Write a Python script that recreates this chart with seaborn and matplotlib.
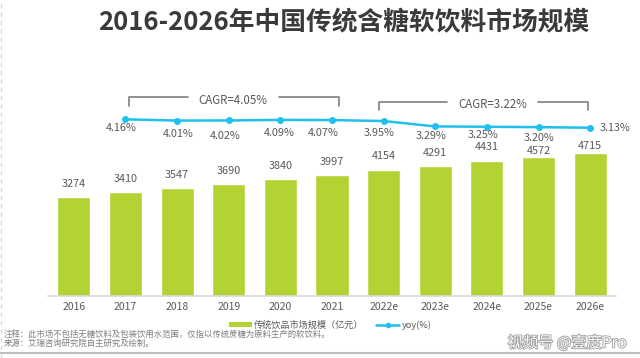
import matplotlib
matplotlib.use('Agg')
import matplotlib.pyplot as plt
import matplotlib.patheffects as pe
import seaborn as sb
from matplotlib.lines import Line2D
from matplotlib.patches import Patch
from matplotlib.transforms import blended_transform_factory
from pandas import DataFrame

# data
years = ['2016', '2017', '2018', '2019', '2020', '2021',
         '2022e', '2023e', '2024e', '2025e', '2026e']
market = [3274, 3410, 3547, 3690, 3840, 3997, 4154, 4291, 4431, 4572, 4715]
yoy_years = years[1:]
yoy = [4.16, 4.01, 4.02, 4.09, 4.07, 3.95, 3.29, 3.25, 3.20, 3.13]
cagr_labels = ['CAGR=4.05%', 'CAGR=3.22%']

title = '2016-2026年中国传统含糖软饮料市场规模'
bar_name = '传统饮品市场规模（亿元）'
line_name = 'yoy(%)'
notes = ['注释：此市场不包括无糖饮料及包装饮用水范围，仅指以传统蔗糖为原料生产的软饮料。',
         '来源：艾瑞咨询研究院自主研究及绘制。']
watermark = '视频号 @壹度Pro'

# style
GREEN = '#b3d335'
CYAN = '#1fc0ee'
TEXT = '#595959'
GREY = '#7f7f7f'

sb.set_style('white')
plt.rcParams['font.family'] = ['Noto Sans CJK SC', 'DejaVu Sans']

W, H = 640, 358


def fx(px):
    return px / W


def fy(py):
    return 1 - py / H


fig = plt.figure(figsize=(6.4, 3.58), dpi=100)
ax = fig.add_axes([fx(48), fy(296), fx(568), 236 / H])

df_bar = DataFrame({'year': years, 'value': market})
sb.barplot(data=df_bar, x='year', y='value', color=GREEN, saturation=1,
           width=0.64, ax=ax)
ax.set_ylim(0, 7766)
ax.set_xlim(-0.5, len(years) - 0.5)
ax.set_xlabel(None)
ax.set_ylabel(None)
ax.set_yticks([])
for side in ['top', 'right', 'left']:
    ax.spines[side].set_visible(False)
ax.spines['bottom'].set_color('#d9d9d9')
ax.spines['bottom'].set_linewidth(1.2)
ax.tick_params(axis='x', length=0, pad=4.5, labelsize=7.5, labelcolor=TEXT)

# bar value labels (last two sit closer, as in the source)
bar_offsets = [13, 13, 13, 13, 13, 13, 13.5, 13, 14, 6, 7]
for i, v in enumerate(market):
    ax.annotate(str(v), (i, v), xytext=(0, bar_offsets[i] * 0.72),
                textcoords='offset points', ha='center', va='center',
                fontsize=7.8, color=TEXT)

# yoy line on a twin axis
ax2 = ax.twinx()
df_line = DataFrame({'pos': [years.index(y) for y in yoy_years], 'yoy': yoy})
sb.lineplot(data=df_line, x='pos', y='yoy', ax=ax2, color=CYAN, marker='o',
            markersize=5, markeredgewidth=0, linewidth=1.8, legend=False)
ax2.set_ylim(-17.49, 11.43)
ax2.set_yticks([])
ax2.set_ylabel(None)
ax2.set_xlabel(None)
for side in ['top', 'right', 'left', 'bottom']:
    ax2.spines[side].set_visible(False)

# label offsets in px (dx, dy) mimic the staggered excel labels
line_offsets = [(-4, 9), (1, 13), (-3.5, 16), (-1.5, 13.5), (-8.5, 12.5),
                (-4.5, 11.5), (-4, 9.5), (-3.5, 8.5), (1, 11), (10, 0)]
for (x, v), (dx, dy) in zip(df_line[['pos', 'yoy']].values, line_offsets):
    last = dx == 10
    ax2.annotate('%.2f%%' % v, (x, v), xytext=(dx * 0.72, -dy * 0.72),
                 textcoords='offset points', ha='left' if last else 'center',
                 va='center', fontsize=7.8, color=TEXT)

# CAGR brackets
tr = blended_transform_factory(ax.transData, fig.transFigure)
brackets = [(1.06, 5.13, 2.21, 3.97, 97.3, 106, 100),
            (5.91, 9.96, 7.23, 8.99, 102, 110, 104)]
for (x0, x1, g0, g1, ytop, ybot, ytext), lab in zip(brackets, cagr_labels):
    kw = dict(transform=tr, color=GREY, lw=1.2, clip_on=False)
    fig.add_artist(Line2D([x0, x0, g0], [fy(ybot), fy(ytop), fy(ytop)], **kw))
    fig.add_artist(Line2D([g1, x1, x1], [fy(ytop), fy(ytop), fy(ybot)], **kw))
    fig.text((g0 + g1) / 2, fy(ytext), lab, transform=tr, ha='center',
             va='center', fontsize=8.3, color=TEXT)

# title
fig.text(fx(344), fy(22.5), title, ha='center', va='center', fontsize=18.5,
         fontweight='bold', color='#3a3a3a')

# legend
handles = [Patch(facecolor=GREEN, edgecolor='none'),
           Line2D([0], [0], color=CYAN, marker='o', markersize=4,
                  markeredgewidth=0, lw=1.8)]
fig.legend(handles, [bar_name, line_name], loc='center',
           bbox_to_anchor=(fx(330), fy(325.5)), ncol=2, frameon=False,
           fontsize=6.6, handlelength=2.5, handleheight=0.45,
           handletextpad=0.25, columnspacing=1.4, labelcolor=TEXT)

# notes and footer
fig.text(fx(4), fy(334.5), notes[0], ha='left', va='center', fontsize=6,
         color=GREY)
fig.text(fx(4), fy(343), notes[1], ha='left', va='center', fontsize=6,
         color=GREY)
fig.text(fx(567), fy(343), watermark, ha='center', va='center', fontsize=11,
         color='white',
         path_effects=[pe.withStroke(linewidth=1.2, foreground='#9a9a9a')])
fig.add_artist(Line2D([0, 1], [fy(353), fy(353)], transform=fig.transFigure,
                      color='#bfbfbf', lw=1.5))
fig.add_artist(Line2D([fx(1), fx(1)], [0, 1], transform=fig.transFigure,
                      color='#d9d9d9', lw=1, ls=(0, (3, 3))))

fig.savefig('out.png', dpi=100)
